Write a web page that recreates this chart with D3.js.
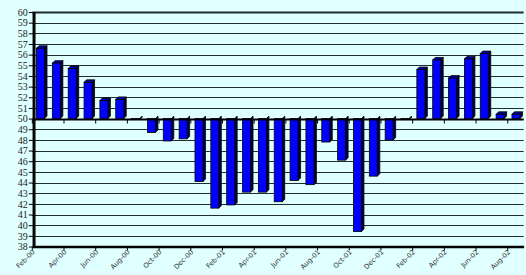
<!DOCTYPE html>
<html>
<head>
<meta charset="utf-8">
<script src="https://d3js.org/d3.v7.min.js"></script>
<style>
  html, body { margin: 0; padding: 0; background: #e0ffff; }
  svg { display: block; }
</style>
</head>
<body>
<div id="vis"></div>
<script>
// months, Feb-00 .. Aug-02
var months = ["Feb-00","Mar-00","Apr-00","May-00","Jun-00","Jul-00","Aug-00","Sep-00","Oct-00","Nov-00","Dec-00",
  "Jan-01","Feb-01","Mar-01","Apr-01","May-01","Jun-01","Jul-01","Aug-01","Sep-01","Oct-01","Nov-01","Dec-01",
  "Jan-02","Feb-02","Mar-02","Apr-02","May-02","Jun-02","Jul-02","Aug-02"];

// index values
var values = [56.6, 55.2, 54.7, 53.4, 51.7, 51.8, 49.9, 48.7, 47.9, 48.1, 44.1,
  41.6, 41.9, 43.1, 43.1, 42.2, 44.2, 43.8, 47.8, 46.1, 39.4, 44.6, 48.0,
  49.9, 54.6, 55.5, 53.8, 55.6, 56.1, 50.4, 50.4];

var yTicks = d3.range(38, 61, 1);
var xLabels = months.filter(function(d, i){ return i % 2 === 0; });
var baseValue = 50;

var width = 526, height = 275;
var x0 = 32.3, x1 = 523.6, yTop = 12, yBottom = 246.5;
var depth = 2.5;

var svg = d3.select("#vis").append("svg")
  .attr("width", width)
  .attr("height", height);

svg.append("rect").attr("width", width).attr("height", height).attr("fill", "#e0ffff");

var x = d3.scaleBand().domain(months).range([x0, x1]).padding(0);
var y = d3.scaleLinear().domain([38, 60]).range([yBottom, yTop]);

// gridlines
svg.append("g").selectAll("line").data(yTicks).enter().append("line")
  .attr("x1", x0).attr("x2", x1)
  .attr("y1", function(d){ return Math.round(y(d)) + 0.5; })
  .attr("y2", function(d){ return Math.round(y(d)) + 0.5; })
  .attr("stroke", "#1e2e2e")
  .attr("stroke-width", function(d){ return d === 60 ? 2 : 1.1; });

// bars, drawn as fake 3D (front face, right side, top)
var barData = months.map(function(m, i){ return {month: m, value: values[i]}; });
var bars = svg.append("g").selectAll("g").data(barData).enter().append("g");
var bw = 8;
function bx(d){ return x(d.month) + 4.2; }
function btop(d){ return Math.min(y(d.value), y(baseValue)); }
function bh(d){ return Math.abs(y(d.value) - y(baseValue)); }

bars.append("path")
  .attr("d", function(d){
    var l = bx(d) + bw, t = btop(d), b = t + bh(d);
    return "M" + l + "," + t + "L" + (l + depth) + "," + (t - depth) + "L" + (l + depth) + "," + (b - depth) + "L" + l + "," + b + "Z";
  })
  .attr("fill", "#000040").attr("stroke", "#000").attr("stroke-width", 0.8);

// top face only shows on bars above the base line
bars.filter(function(d){ return d.value >= baseValue; }).append("path")
  .attr("d", function(d){
    var l = bx(d), t = btop(d);
    return "M" + l + "," + t + "L" + (l + depth) + "," + (t - depth) + "L" + (l + bw + depth) + "," + (t - depth) + "L" + (l + bw) + "," + t + "Z";
  })
  .attr("fill", "#0000a0").attr("stroke", "#000").attr("stroke-width", 0.8);

bars.append("rect")
  .attr("x", bx)
  .attr("y", btop)
  .attr("width", bw)
  .attr("height", function(d){ return Math.max(bh(d), 0.5); })
  .attr("fill", "#0000ff").attr("stroke", "#000").attr("stroke-width", 0.8);

// baseline at 50 with ticks
var yBase = Math.round(y(baseValue)) + 0.5;
svg.append("line").attr("x1", x0).attr("x2", x1).attr("y1", yBase).attr("y2", yBase)
  .attr("stroke", "#000").attr("stroke-width", 2);
svg.append("g").selectAll("line").data(xLabels).enter().append("line")
  .attr("x1", function(d){ return x(d); }).attr("x2", function(d){ return x(d); })
  .attr("y1", yBase).attr("y2", yBase + 4)
  .attr("stroke", "#000").attr("stroke-width", 1);

// bottom x axis
var xAxis = d3.axisBottom(x).tickValues(xLabels).tickSizeInner(4).tickSizeOuter(0).tickFormat("");
var gx = svg.append("g").attr("transform", "translate(0," + (yBottom) + ")").call(xAxis);
gx.select(".domain").attr("stroke-width", 2.5);
gx.selectAll(".tick line").attr("transform", function(d){ return "translate(" + (-x.bandwidth() / 2) + ",0)"; });

svg.append("g").selectAll("text").data(xLabels).enter().append("text")
  .attr("transform", function(d){ return "translate(" + (x(d) + 3) + "," + (yBottom + 6) + ") rotate(-45)"; })
  .attr("text-anchor", "end")
  .attr("font-family", "DejaVu Sans, Verdana, sans-serif")
  .attr("font-size", "6.8px")
  .attr("fill", "#333")
  .text(function(d){ return d; });

// left y axis, double line
var yAxis = d3.axisLeft(y).tickValues(yTicks).tickSizeInner(4).tickSizeOuter(0).tickPadding(1);
var gy = svg.append("g").attr("transform", "translate(" + (x0 + 0.5) + ",0)").call(yAxis);
gy.select(".domain").attr("stroke-width", 1.5);
gy.selectAll("text")
  .attr("font-family", "Liberation Serif, Times New Roman, serif")
  .attr("font-size", "10px")
  .attr("fill", "#222");
svg.append("line").attr("x1", x0 + 2.5).attr("x2", x0 + 2.5).attr("y1", yTop).attr("y2", yBottom)
  .attr("stroke", "#000").attr("stroke-width", 1.5);
</script>
</body>
</html>
